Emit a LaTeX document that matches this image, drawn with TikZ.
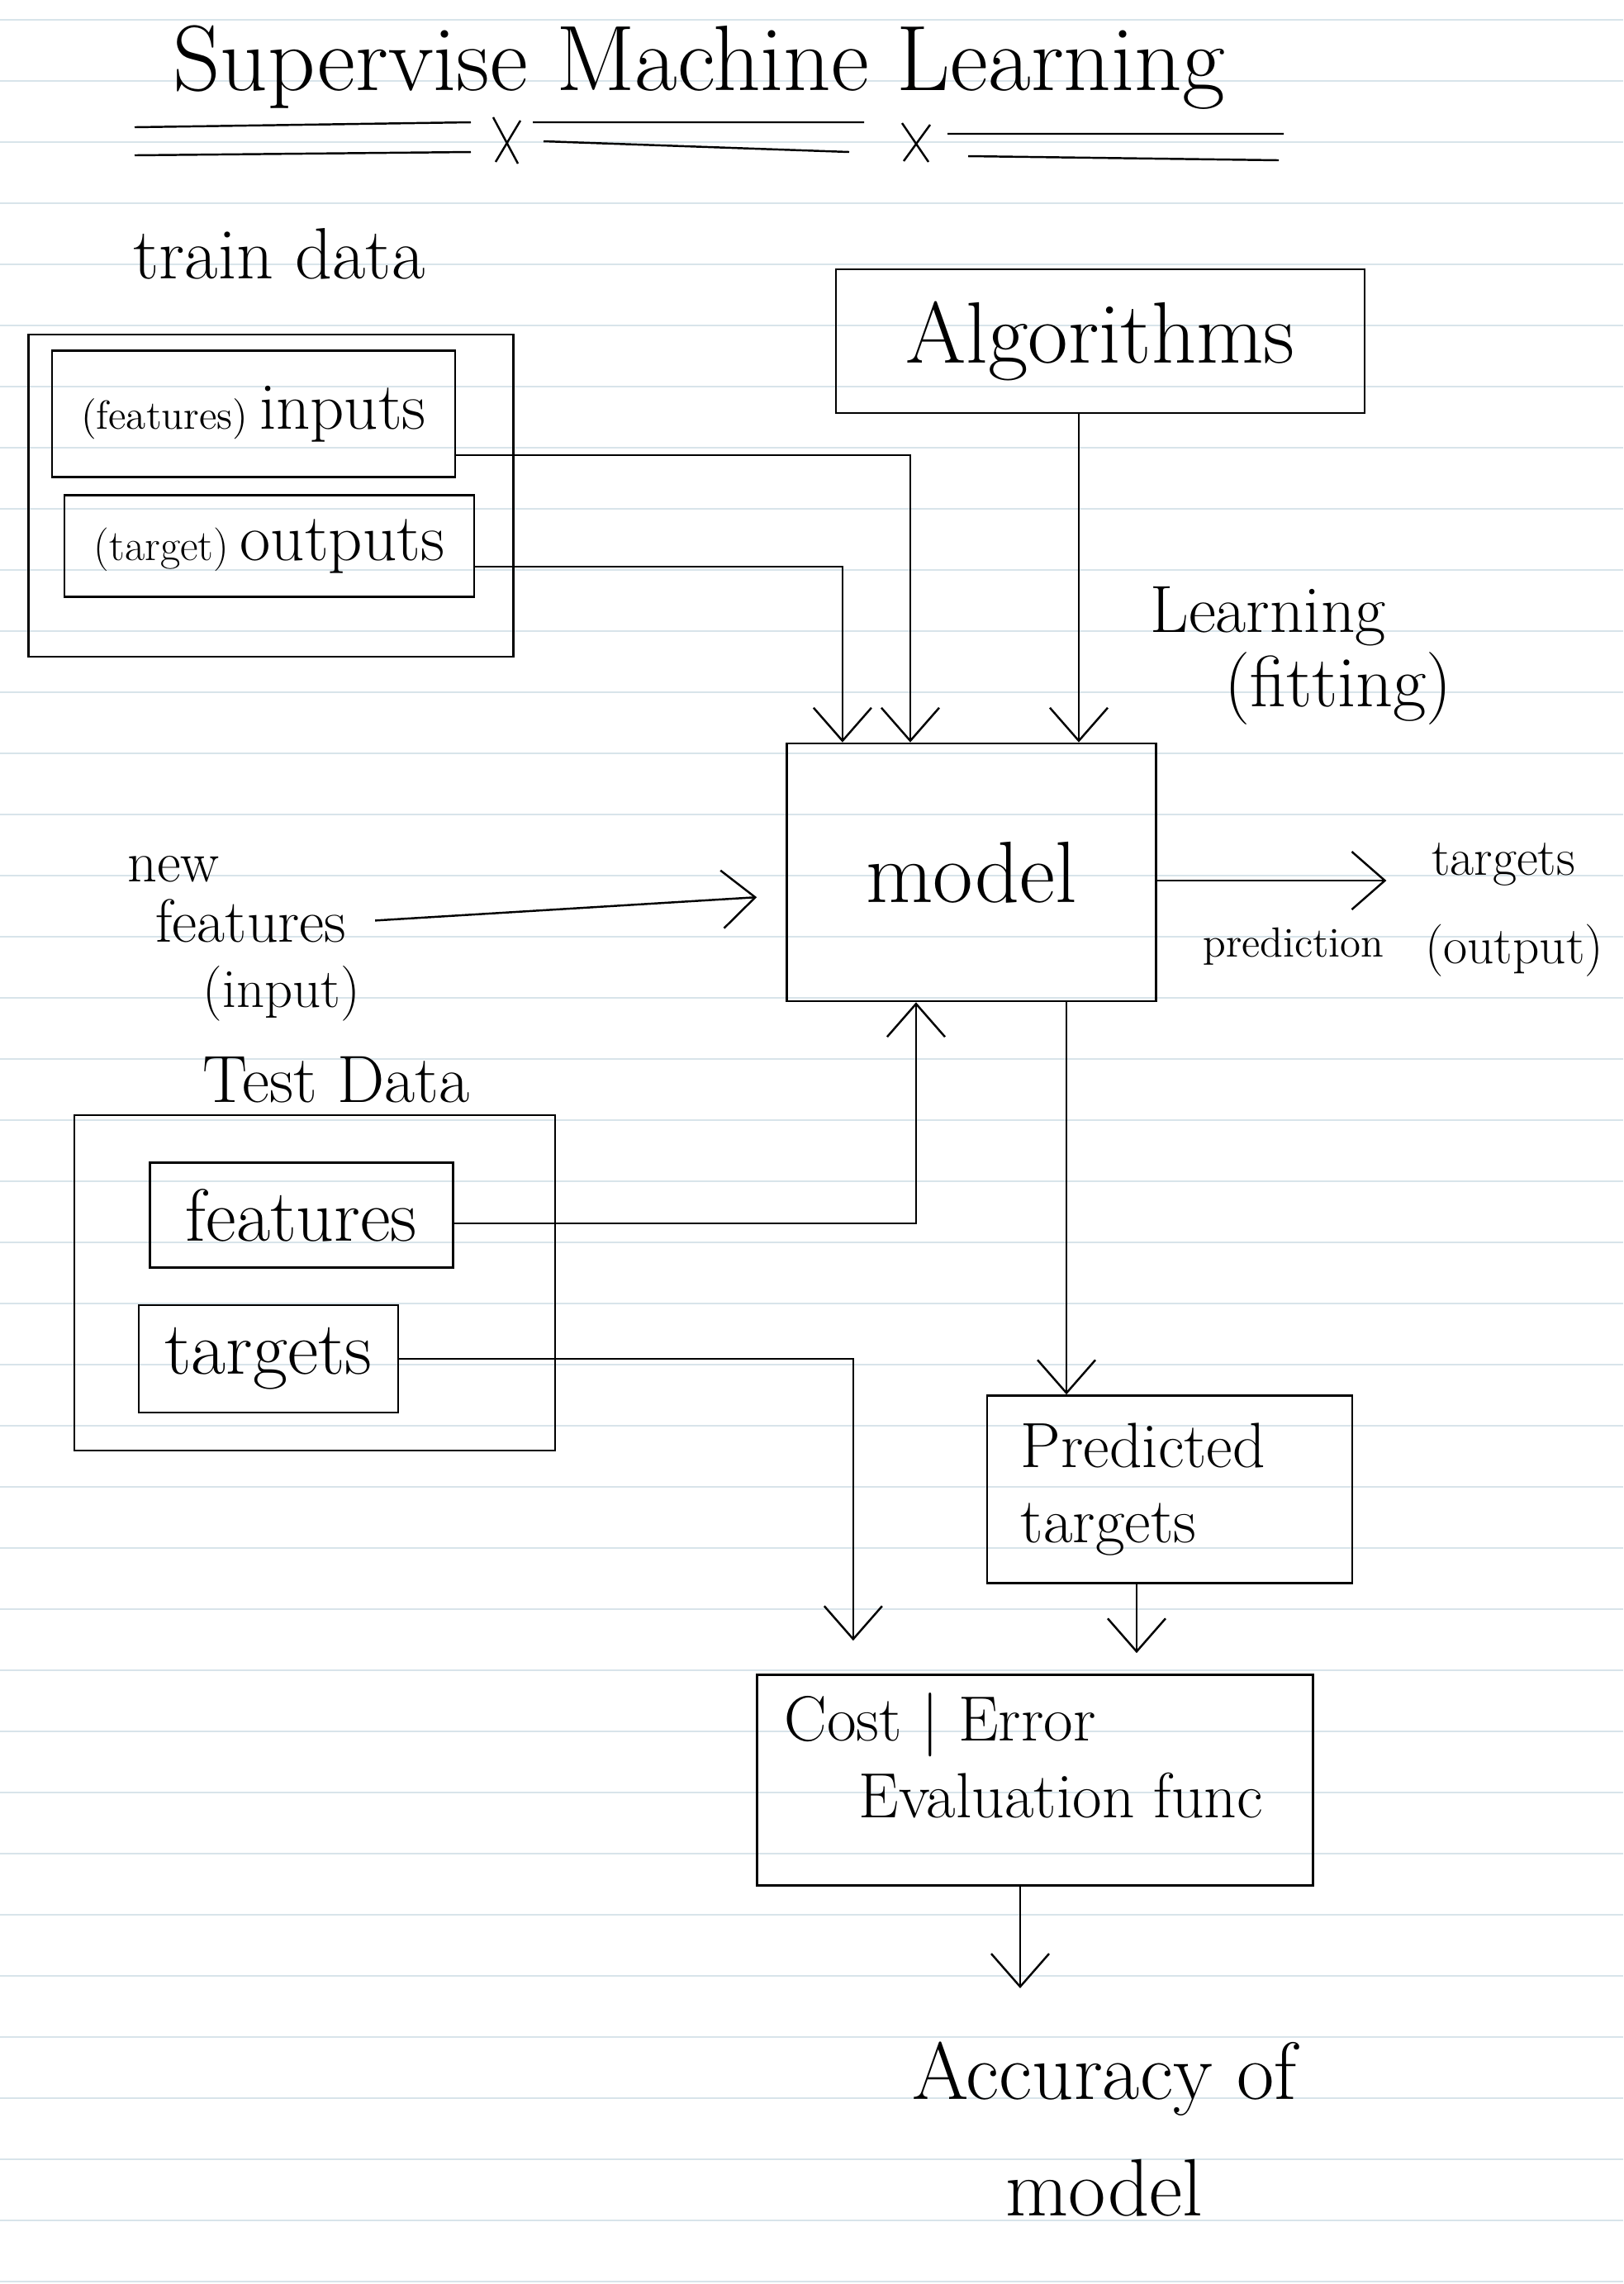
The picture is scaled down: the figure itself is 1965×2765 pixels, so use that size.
\documentclass[tikz,border=0pt]{standalone}
\usepackage{amsmath,amsfonts}
\usepackage{tikz}
\usetikzlibrary{arrows.meta}
\definecolor{ruled}{RGB}{216,228,234}
\newcommand{\fsz}[2]{\fontsize{#1}{#2}\selectfont}

\begin{document}
\begin{tikzpicture}[x=0.01cm, y=-0.01cm, line width=0.7pt,
    bnode/.style={draw, rectangle, inner sep=0pt},
    lnode/.style={inner sep=1pt},
    arr/.style={-{Straight Barb[length=4mm,width=7mm]}}]
    \useasboundingbox (0,0) rectangle (1965,2765);
    \fill[white] (0,0) rectangle (1965,2765);
    \foreach \k in {0,...,37}
        \draw[ruled, line width=0.6pt] (0,24.3+74*\k) -- (1965,24.3+74*\k);

    \node[lnode, anchor=base, font=\fsz{32}{38}] (title) at (846,109) {Supervise Machine Learning};
    \draw (163,154) -- (570,148) (645,148) -- (1046,148) (1147,162) -- (1554,162);
    \draw (163,188) -- (570,184) (658,171) -- (1028,184) (1172,189) -- (1548,194);
    \draw (597,142) -- (627,198) (630,146) -- (600,196);
    \draw (1092,149) -- (1124,196) (1126,151) -- (1094,195);

    \node[lnode, anchor=base, font=\fsz{25}{30}] (trainl) at (338,337) {train data};
    \node[bnode, minimum width=5.87cm, minimum height=3.9cm] (train) at (328,600) {};
    \node[bnode, minimum width=4.88cm, minimum height=1.53cm, font=\fsz{23}{27}] (inp) at (307,501) {{\fsz{14}{16}(features)}\,inputs};
    \node[bnode, minimum width=4.96cm, minimum height=1.23cm, font=\fsz{23}{27}] (out) at (326,661) {{\fsz{15}{17}(target)}\,outputs};
    \node[bnode, minimum width=6.4cm, minimum height=1.74cm, font=\fsz{30}{36}] (alg) at (1332,413) {Algorithms};
    \node[bnode, minimum width=4.47cm, minimum height=3.12cm, font=\fsz{30}{36}] (model) at (1176,1056) {model};
    \node[lnode, anchor=base, font=\fsz{23}{27}] (learn) at (1535,765) {Learning};
    \node[lnode, anchor=base, font=\fsz{25}{30}] (fit) at (1620,855) {(fitting)};

    \node[lnode, anchor=base, font=\fsz{20}{24}] (new) at (210,1067) {new};
    \node[lnode, anchor=base, font=\fsz{21}{25}] (feat) at (304,1140) {features};
    \node[lnode, anchor=base, font=\fsz{19}{23}] (inpt) at (341,1219) {(input)};
    \node[lnode, anchor=base, font=\fsz{18}{22}] (tgt) at (1820,1059) {targets};
    \node[lnode, anchor=base, font=\fsz{14.5}{17}] (predl) at (1566,1158) {prediction};
    \node[lnode, anchor=base, font=\fsz{18}{22}] (outl) at (1833,1166) {(output)};

    \node[lnode, anchor=base, font=\fsz{23}{27}] (testl) at (407,1334) {Test Data};
    \node[bnode, minimum width=5.82cm, minimum height=4.06cm] (test) at (381,1553) {};
    \node[bnode, minimum width=3.67cm, minimum height=1.27cm, font=\fsz{25.5}{30}] (tfeat) at (365,1471) {features};
    \node[bnode, minimum width=3.14cm, minimum height=1.3cm, font=\fsz{26}{30}] (ttar) at (325,1645) {targets};
    \node[bnode, minimum width=4.42cm, minimum height=2.27cm, text width=3.6cm, align=left, font=\fsz{22}{26}] (pred) at (1416,1803) {Predicted\\targets};
    \node[bnode, minimum width=6.73cm, minimum height=2.55cm] (cost) at (1253,2155) {};
    \node[lnode, anchor=north west, align=left, font=\fsz{22}{26.5}] (costl) at (945,2045) {Cost \textbar\ Error\\\hspace*{0.9cm}Evaluation func};
    \node[lnode, anchor=north, align=center, font=\fsz{28}{40}] (acc) at (1337,2467) {Accuracy of\\model};

   \begin{scope}[arr]
    \draw ([yshift=-5mm]inp.east) -| ([xshift=-7.4mm]model.north);
    \draw ([yshift=-2.5mm]out.east) -| ([xshift=-15.6mm]model.north);
    \draw ([xshift=-2.6mm]alg.south) -- ([xshift=-2.6mm]alg.south |- model.north);
    \draw[shorten >=3.5mm] ([xshift=3mm]feat.east) -- ([yshift=-2.8mm]model.west);
    \draw[shorten >=5mm] ([yshift=-1mm]model.east) -- ([yshift=-1mm]model.east -| tgt.west);
    \draw ([yshift=-1mm]tfeat.east) -| ([xshift=-6.7mm]model.south);
    \draw ([xshift=11.5mm]model.south) -- ([xshift=11.5mm]model.south |- pred.north);
    \draw[shorten >=4mm] (ttar.east) -| ([xshift=-22mm]cost.north);
    \draw[shorten >=2.5mm] ([xshift=-4mm]pred.south) -- ([xshift=-4mm]pred.south |- cost.north);
    \draw[shorten >=6mm] ([xshift=-1.8mm]cost.south) -- ([xshift=-1.8mm]cost.south |- acc.north);
   \end{scope}
\end{tikzpicture}
\end{document}
